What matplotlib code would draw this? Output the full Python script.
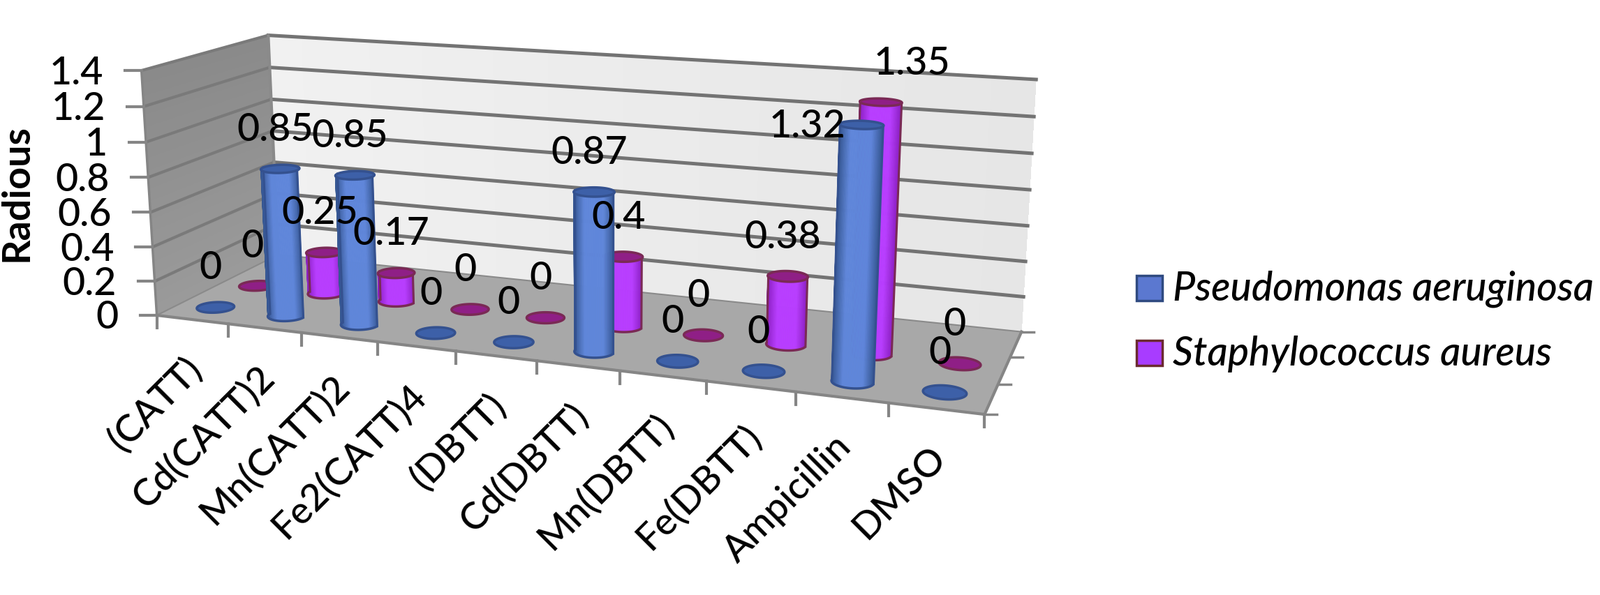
import numpy as np
import matplotlib
matplotlib.use("Agg")
import matplotlib.pyplot as plt
from matplotlib.patches import Polygon, Rectangle

# ---------- data ----------
categories = ["(CATT)", "Cd(CATT)2", "Mn(CATT)2", "Fe2(CATT)4", "(DBTT)",
              "Cd(DBTT)", "Mn(DBTT)", "Fe(DBTT)", "Ampicillin", "DMSO"]
pseudomonas = [0, 0.85, 0.85, 0, 0, 0.87, 0, 0, 1.32, 0]
staphylococcus = [0, 0.25, 0.17, 0, 0, 0.4, 0, 0.38, 1.35, 0]
series_names = ["Pseudomonas aeruginosa", "Staphylococcus aureus"]
y_ticks = [0, 0.2, 0.4, 0.6, 0.8, 1, 1.2, 1.4]
y_label = "Radious"

# ---------- projection of the 3-D chart box onto the page (calibrated) ----------
calib_world = np.array([
    (0, 0, 0), (0, 0, 1.4), (0, 1, 0), (0, 1, 1.4), (10, 1, 0), (10, 1, 1.4), (10, 0, 0),
    (5, 0, 0), (0, 0, 0.6), (2, 0, 0), (8, 0, 0),
    (8.5, .52, 1.35), (8.5, .18, 1.32), (8.5, .52, 0), (8.5, .18, 0),
    (1.5, .18, .85), (1.5, .18, 0), (1.5, .52, .25), (1.5, .52, 0)], float)
calib_page = np.array([
    (228, 452), (201, 101), (398, 370), (387, 50), (1460, 471), (1486, 115), (1409, 597),
    (768, 518), (216, 306), (435, 478), (1140, 565),
    (1260, 158), (1233, 172), (1258, 508), (1220, 549),
    (401, 243), (410, 452), (462, 363), (462, 420)], float)


def fit_dlt(w, p):
    rows = []
    for (x, y, z), (u, v) in zip(w, p):
        rows.append([x, y, z, 1, 0, 0, 0, 0, -u*x, -u*y, -u*z, -u])
        rows.append([0, 0, 0, 0, x, y, z, 1, -v*x, -v*y, -v*z, -v])
    return np.linalg.svd(np.array(rows))[2][-1].reshape(3, 4)


P = fit_dlt(calib_world, calib_page)


def proj(c, d, z):
    c, d, z = np.broadcast_arrays(np.asarray(c, float), np.asarray(d, float), np.asarray(z, float))
    h = P @ np.stack([c.ravel(), d.ravel(), z.ravel(), np.ones(c.size)])
    return np.column_stack([h[0]/h[2], h[1]/h[2]])


plt.rcParams["font.family"] = ["Lato", "DejaVu Sans"]
fig = plt.figure(figsize=(22.92, 8.54), dpi=100)
ax = fig.add_axes([0, 0, 1, 1])
ax.set_xlim(0, 2292)
ax.set_ylim(854, 0)
ax.axis("off")

ZMAX = max(y_ticks)
GRID = "#737373"


def mix(a, b, t):
    a, b = matplotlib.colors.to_rgb(a), matplotlib.colors.to_rgb(b)
    return tuple(x+(y-x)*t for x, y in zip(a, b))


# walls with soft gradient
n = 40
for i in range(n):
    z0, z1 = ZMAX*i/n, ZMAX*(i+1)/n
    t = i/(n-1)
    ax.add_patch(Polygon(proj([0, 0, 0, 0], [0, 1, 1, 0], [z0, z0, z1, z1]),
                         fc=mix("#9a9a9a", "#8a8a8a", t), ec="none", zorder=1, aa=False))
for i in range(n):
    c0, c1 = 10*i/n, 10*(i+1)/n
    t = i/(n-1)
    ax.add_patch(Polygon(proj([c0, c1, c1, c0], [1, 1, 1, 1], [0, 0, ZMAX, ZMAX]),
                         fc=mix("#f1f1f1", "#e6e6e6", t), ec="none", zorder=1, aa=False))
ax.add_patch(Polygon(proj([0, 10, 10, 0], [0, 0, 1, 1], [0, 0, 0, 0]),
                     fc="#a8a8a8", ec="none", zorder=2))

# gridlines on both walls
for v in y_ticks[1:]:
    xy = proj([0, 0], [0, 1], [v, v])
    ax.plot(xy[:, 0], xy[:, 1], color="#7a7a7a", lw=3.0, zorder=3)
    xy = proj([0, 10], [1, 1], [v, v])
    ax.plot(xy[:, 0], xy[:, 1], color=GRID, lw=3.6, zorder=3)
edge = proj([0, 0, 10], [0, 1, 1], [0, 0, 0])
ax.plot(edge[:, 0], edge[:, 1], color="#8a8a8a", lw=1.5, zorder=3)
corner = proj([0, 0], [1, 1], [0, ZMAX])
ax.plot(corner[:, 0], corner[:, 1], color="#8a8a8a", lw=3, zorder=3)

# axis lines + ticks
AX = "#858585"
xy = proj([0, 0], [0, 0], [0, ZMAX])
ax.plot(xy[:, 0], xy[:, 1], color=AX, lw=2.5, zorder=4)
xy = proj([0, 10, 10], [0, 0, 1], [0, 0, 0])
ax.plot(xy[:, 0], xy[:, 1], color=AX, lw=3, zorder=4)
for v in y_ticks:
    p = proj(0, 0, v)[0]
    ax.plot([p[0]-24, p[0]], [p[1], p[1]], color=AX, lw=3, zorder=4)
    ax.text(p[0]-55, p[1]+3, f"{v:g}", fontsize=40, fontweight="medium", ha="right", va="center", zorder=8)
for k in range(11):
    p = proj(k, 0, 0)[0]
    ax.plot([p[0], p[0]], [p[1], p[1]+18], color=AX, lw=3, zorder=4)
for d in (0, 1/3, 2/3, 1):
    p = proj(10, d, 0)[0]
    ax.plot([p[0], p[0]+18], [p[1], p[1]], color=AX, lw=2.5, zorder=4)

# category labels
for k, name in enumerate(categories):
    p = proj(k+0.5, 0, 0)[0]
    ax.text(p[0]-12, p[1]+44, name, fontsize=39, fontweight="medium", rotation=45, ha="right", va="top",
            rotation_mode="anchor", zorder=8)

ax.text(24, 277, y_label, fontsize=40, fontweight="bold", rotation=90, ha="center", va="center", zorder=8)

# cylinders
RU, RD = 0.23, 0.075
TH = np.linspace(0, 2*np.pi, 121)


def cylinder(k, depth, val, style, z):
    cx = k+0.5
    cu = cx+RU*np.cos(TH)
    cd = depth+RD*np.sin(TH)
    base = proj(cu, cd, np.zeros_like(TH))
    top = proj(cu, cd, np.full_like(TH, val))
    if val > 0:
        for i in range(len(TH)-1):
            if np.sin(TH[i]) > 0.02:
                continue
            q = np.array([base[i], base[i+1], top[i+1], top[i]])
            s = 1-abs(2*(0.5*(base[i, 0]+base[i+1, 0])-base[:, 0].min())/(base[:, 0].max()-base[:, 0].min())-1)
            col = mix(style["side_edge"], style["side"], min(1, s*1.9))
            ax.add_patch(Polygon(q, fc=col, ec=col, lw=0.6, zorder=z))
        ax.add_patch(Polygon(base[TH >= np.pi-0.05], closed=False, fc="none", ec=style["line"], lw=2.5, zorder=z+0.1))
    ax.add_patch(Polygon(top, fc=style["cap"], ec=style["line"], lw=2.5, zorder=z+0.2))
    if val > 0:
        left = np.array([base[60], top[60]])
        right = np.array([base[0], top[0]])
        ax.plot(left[:, 0], left[:, 1], color=style["line"], lw=2.2, zorder=z+0.15)
        ax.plot(right[:, 0], right[:, 1], color=style["line"], lw=2.2, zorder=z+0.15)


BLUE = dict(side="#5f86da", side_edge="#34558f", cap="#3d60a8", line="#34518f")
PURPLE = dict(side="#b83dff", side_edge="#8a1fc0", cap="#8f1f86", line="#7a2a55")
DEPTH_B, DEPTH_P = 0.18, 0.52

for k, v in enumerate(staphylococcus):
    cylinder(k, DEPTH_P, v, PURPLE, 5+k*0.01)
for k, v in enumerate(pseudomonas):
    cylinder(k, DEPTH_B, v, BLUE, 6+k*0.01)

# data labels (the two tall Ampicillin labels were dragged aside in the original)
label_shift = {(0, 8): (-71, 58), (1, 8): (52, 1)}
for s, (vals, depth) in enumerate(((pseudomonas, DEPTH_B), (staphylococcus, DEPTH_P))):
    for k, v in enumerate(vals):
        p = proj(k+0.5, depth, v)[0]
        dx, dy = label_shift.get((s, k), (0, 0))
        ax.text(p[0]-7+dx, p[1]-57+dy, f"{v:g}", fontsize=40, fontweight="medium",
                ha="center", va="center", zorder=9)

# legend
for y, name, fc, ec in ((396, series_names[0], "#5b78d0", "#2f4a80"), (489, series_names[1], "#a83cff", "#6b2a30")):
    ax.add_patch(Rectangle((1628, y), 37, 36, fc=fc, ec=ec, lw=2.5, zorder=8))
    ax.text(1680, y+18, name, fontsize=41, style="italic", fontweight="medium", ha="left", va="center", zorder=8)

fig.savefig("out.png", dpi=100)
